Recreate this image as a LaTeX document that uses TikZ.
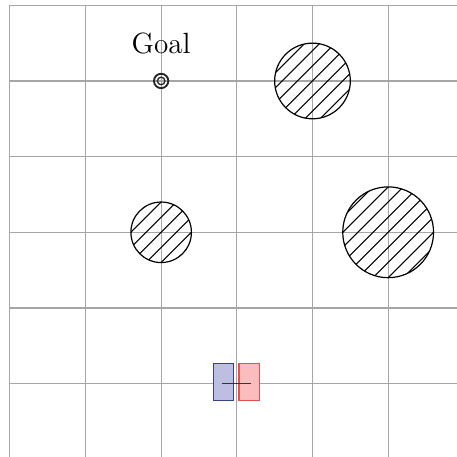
\documentclass[tikz,border=0pt]{standalone}
\usepackage{tikz}
\usetikzlibrary{positioning}

\definecolor{wheelblue}{RGB}{190,190,224}
\definecolor{wheelblueline}{RGB}{55,65,140}
\definecolor{wheelred}{RGB}{250,188,188}
\definecolor{wheelredline}{RGB}{228,80,80}

% hatched circular obstacle: name, center, radius
\newcommand{\hatchobstacle}[3]{%
  \node[obstacle, minimum size=#3*2cm] (#1) at (#2) {};
  \begin{scope}[shift={(#2)}]
    \clip (0,0) circle (#3);
    \foreach \k in {-7,...,7}
      \draw[hatch] (\k*0.2-1,-1) -- ++(2,2);
  \end{scope}
}

\begin{document}
\begin{tikzpicture}[
    gridline/.style={draw=gray!70, line width=0.45pt},
    obstacle/.style={circle, draw, inner sep=0pt, line width=0.45pt},
    hatch/.style={line width=0.4pt},
    goalring/.style={circle, draw=black!85, inner sep=0pt, line width=0.7pt},
    leftwheel/.style={draw=wheelblueline, fill=wheelblue, minimum width=0.27cm, minimum height=0.49cm, inner sep=0pt, line width=0.5pt},
    rightwheel/.style={draw=wheelredline, fill=wheelred, minimum width=0.27cm, minimum height=0.49cm, inner sep=0pt, line width=0.5pt}
]

\clip (-3.13,-0.96) rectangle (2.91,5.07);
\draw[gridline] (-3,-1) grid (3,5);

% obstacles
\hatchobstacle{obs1}{1,4}{0.5}
\hatchobstacle{obs2}{-1,2}{0.4}
\hatchobstacle{obs3}{2,2}{0.6}

% goal
\node[goalring, minimum size=0.19cm] (goal) at (-1,4) {};
\node[goalring, minimum size=0.1cm, line width=0.5pt] (goalin) at (goal.center) {};
\node[font=\fontsize{11}{13}\selectfont, inner sep=0pt] (goallabel) at (-1,4.49) {Goal};

% robot
\node[leftwheel] (wheelL) at (-0.175,0.02) {};
\node[rightwheel] (wheelR) at (0.165,0.02) {};
\coordinate (rear) at (-0.2,0);
\coordinate (front) at (0.19,0);
\draw[black!80, line width=0.55pt] (rear) -- (front);

\end{tikzpicture}
\end{document}
